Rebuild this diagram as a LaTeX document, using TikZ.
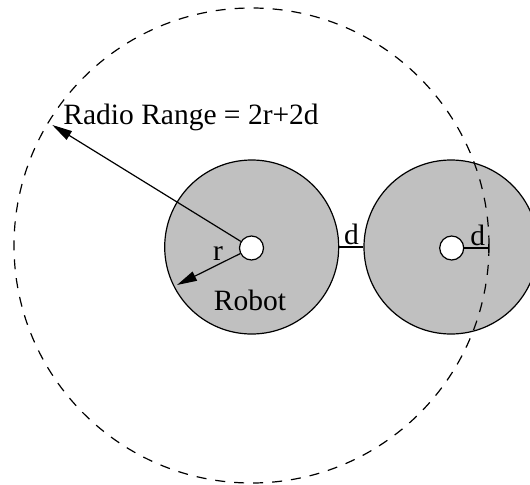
\documentclass[tikz,border=0pt]{standalone}
\usepackage{fontspec}
\setmainfont{Liberation Serif}
\usepackage{tikz}
\usetikzlibrary{positioning,arrows.meta,calc}
\definecolor{cDisk}{HTML}{C0C0C0}
\definecolor{cInk}{HTML}{000000}

\begin{document}
\begin{tikzpicture}[x=0.5pt,y=0.5pt,font=\fontsize{14.75}{17}\selectfont,
      disk/.style={circle,draw=cInk,fill=cDisk,line width=0.6pt,minimum size=87pt,inner sep=0pt},
      hub/.style={circle,draw=cInk,fill=white,line width=0.6pt,minimum size=12pt,inner sep=0pt},
      lbl/.style={inner sep=0pt,text=cInk},
      arr/.style={-{Triangle[length=10pt,width=5pt]},line width=0.6pt,cInk}]
    \useasboundingbox (0,0) rectangle (530,484);
    \clip (0,0) rectangle (530,484);
    \foreach \x/\n in {251.7/L,451/R}
      \node[disk] (disk\n) at (\x,237) {};
    \foreach \x/\n in {251.5/L,451.7/R}
      \node[hub] (hub\n) at (\x,236) {};
    \draw[cInk,line width=0.6pt,dash pattern=on 5pt off 4.5pt] (251.5,238.5) circle[radius=237.5];
    \coordinate (rangeTip) at (52.3,359);
    \coordinate (rTip) at (177,199);
    \coordinate (dTip) at (489.3,236);
    \draw[arr] (hubL) -- (rangeTip);
    \draw[arr] (hubL) -- (rTip);
    \draw[cInk,line width=0.6pt] (diskL.east) -- (diskR.west);
    \draw[cInk,line width=0.6pt,-{Bar[width=4.5pt]}] (hubR) -- (dTip);
    \node[lbl,anchor=base west] (range) at (63,360) {Radio Range = 2r+2d};
    \node[lbl,anchor=base] (rLbl) at (218,224) {r};
    \node[lbl,anchor=base] (robot) at (250,174) {Robot};
    \node[lbl] (dLink) at (351.5,249.5) {d};
    \node[lbl] (dHub) at (477.7,248.2) {d};
  \end{tikzpicture}
\end{document}
